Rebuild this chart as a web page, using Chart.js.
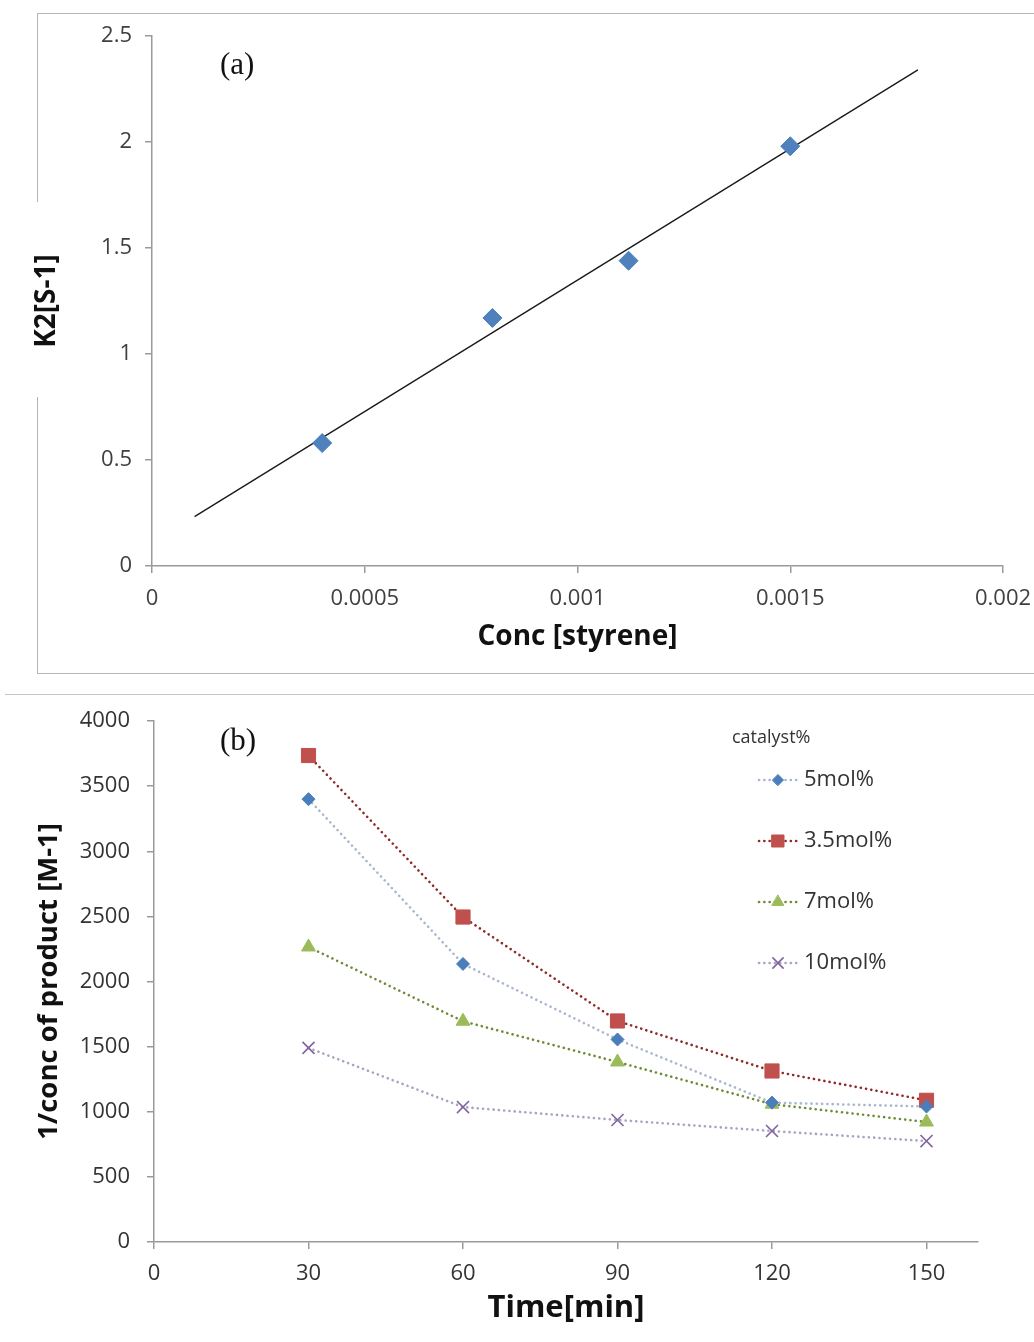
<!DOCTYPE html>
<html>
<head>
<meta charset="utf-8">
<script src="https://cdn.jsdelivr.net/npm/chart.js@4.4.1/dist/chart.umd.min.js"></script>
<style>
  body { margin: 0; background: #fff; width: 1034px; height: 1342px; position: relative; overflow: hidden; }
  .frame { position: absolute; left: 37px; top: 13px; width: 1010px; height: 659px; border: 1.5px solid #b5b5b5; border-right: none; }
  .gap { position: absolute; left: 33px; top: 202px; width: 10px; height: 195px; background: #fff; }
  .sep { position: absolute; left: 5px; top: 694px; width: 1029px; height: 0; border-top: 1.5px solid #c4c4c4; }
  .tag { position: absolute; font-family: "Liberation Serif", "DejaVu Serif", serif; font-size: 31px; line-height: 31px; color: #111; }
  #chartA { position: absolute; left: 0; top: 0; }
  #chartB { position: absolute; left: 0; top: 690px; }
</style>
</head>
<body>
<div class="frame"></div>
<div class="gap"></div>
<div class="sep"></div>
<canvas id="chartA" width="1034" height="690"></canvas>
<canvas id="chartB" width="1034" height="652"></canvas>
<div class="tag" style="left:220px; top:48px;">(a)</div>
<div class="tag" style="left:220px; top:724px;">(b)</div>

<script>
// chart (a)
const concX = [0.0004, 0.0008, 0.00112, 0.0015];
const k2Y = [0.58, 1.17, 1.44, 1.98];
const trendRange = [0.0001, 0.0018];
const xTicksA = [0, 0.0005, 0.001, 0.0015, 0.002];
const yTicksA = [0, 0.5, 1, 1.5, 2, 2.5];

// chart (b)
const timeX = [30, 60, 90, 120, 150];
const series5 = [3400, 2135, 1555, 1070, 1040];
const series35 = [3735, 2495, 1697, 1313, 1088];
const series7 = [2265, 1695, 1382, 1058, 921];
const series10 = [1490, 1036, 937, 852, 775];
const seriesLabels = ['5mol%', '3.5mol%', '7mol%', '10mol%'];
const legendTitle = 'catalyst%';
const xTicksB = [0, 30, 60, 90, 120, 150];
const yTicksB = [0, 500, 1000, 1500, 2000, 2500, 3000, 3500, 4000];

Chart.defaults.color = '#333';
Chart.defaults.font.family = '"Open Sans", "DejaVu Sans", sans-serif';
Chart.defaults.font.size = 22;

// least squares trendline, like the spreadsheet's linear trendline
function fitLine(xs, ys) {
  const n = xs.length;
  const mx = xs.reduce((a, b) => a + b, 0) / n;
  const my = ys.reduce((a, b) => a + b, 0) / n;
  let sxy = 0, sxx = 0;
  for (let i = 0; i < n; i++) {
    sxy += (xs[i] - mx) * (ys[i] - my);
    sxx += (xs[i] - mx) * (xs[i] - mx);
  }
  const slope = sxy / sxx;
  return { slope: slope, icept: my - slope * mx };
}

function axisLook(tickValues, size) {
  return {
    grid: { display: true, drawOnChartArea: false, drawTicks: true, tickLength: 7, color: '#9a9a9a', lineWidth: 1.5 },
    border: { display: true, color: '#9a9a9a', width: 1.5 },
    afterBuildTicks: (scale) => { scale.ticks = tickValues.map(v => ({ value: v })); },
    afterFit: (scale) => {
      if (scale.isHorizontal()) {
        scale.height = size;
        scale.paddingLeft = 0;
        scale.paddingRight = 0;
      } else {
        scale.width = size;
        scale.paddingTop = 0;
        scale.paddingBottom = 0;
      }
    }
  };
}

function loadChartA() {
  const fit = fitLine(concX, k2Y);
  const trend = trendRange.map(x => ({ x: x, y: fit.icept + fit.slope * x }));

  const xAxis = axisLook(xTicksA, 124);
  xAxis.type = 'linear';
  xAxis.min = 0;
  xAxis.max = 0.002;
  xAxis.ticks = { color: '#404040', padding: 13, maxRotation: 0, font: { size: 22 }, callback: v => String(v) };
  xAxis.title = { display: true, text: 'Conc [styrene]', color: '#111', font: { size: 28, weight: 'bold' }, padding: { top: 0, bottom: 36 } };

  const yAxis = axisLook(yTicksA, 152);
  yAxis.min = 0;
  yAxis.max = 2.5;
  yAxis.ticks = { color: '#404040', padding: 13, font: { size: 22 }, callback: v => String(v) };
  yAxis.title = { display: true, text: 'K2[S-1]', color: '#111', font: { size: 28, weight: 'bold' }, padding: { top: 30, bottom: 0 } };

  new Chart(document.getElementById('chartA'), {
    type: 'scatter',
    data: {
      datasets: [{
        label: 'K2',
        data: concX.map((x, i) => ({ x: x, y: k2Y[i] })),
        pointStyle: 'rectRot',
        pointRadius: 9.5,
        pointBackgroundColor: '#4f81bd',
        pointBorderColor: '#4a7ebb',
        pointBorderWidth: 1
      }, {
        label: 'trend',
        data: trend,
        showLine: true,
        borderColor: '#1a1a1a',
        borderWidth: 1.4,
        pointRadius: 0
      }]
    },
    options: {
      responsive: false,
      animation: false,
      layout: { padding: { top: 36, right: 31, left: 0, bottom: 0 } },
      plugins: { legend: { display: false }, tooltip: { enabled: false } },
      scales: { x: xAxis, y: yAxis }
    }
  });
}

const sideLegend = {
  id: 'sideLegend',
  afterDatasetsDraw(chart) {
    const ctx = chart.ctx;
    ctx.save();
    ctx.textBaseline = 'middle';
    ctx.fillStyle = '#333';
    ctx.font = '18px "Open Sans"';
    ctx.fillText(legendTitle, 732, 48);
    chart.data.datasets.forEach((ds, i) => {
      const y = 90 + i * 61;
      ctx.strokeStyle = ds.borderColor;
      ctx.lineWidth = ds.borderWidth;
      ctx.lineCap = 'round';
      ctx.setLineDash(ds.borderDash);
      ctx.beginPath();
      ctx.moveTo(759, y);
      ctx.lineTo(797, y);
      ctx.stroke();
      ctx.setLineDash([]);
      ctx.fillStyle = ds.pointBackgroundColor;
      ctx.strokeStyle = ds.pointBorderColor;
      ctx.lineWidth = ds.pointBorderWidth;
      Chart.helpers.drawPoint(ctx, { pointStyle: ds.pointStyle, radius: ds.pointRadius * 0.85, borderWidth: ds.pointBorderWidth, rotation: 0 }, 778, y);
      ctx.fillStyle = '#333';
      ctx.font = '22px "Open Sans"';
      ctx.fillText(ds.label, 804, y);
    });
    ctx.restore();
  }
};

function loadChartB() {
  const lists = [series5, series35, series7, series10];
  const lineColors = ['#a7b6cf', '#8e2a28', '#6f8b35', '#a9a3c0'];
  const markColors = ['#4a7ebb', '#c0504d', '#9bbb59', '#8064a2'];
  const styles = ['rectRot', 'rect', 'triangle', 'crossRot'];
  const radii = [6.5, 10, 8, 8.5];

  const datasets = lists.map((vals, k) => ({
    label: seriesLabels[k],
    data: timeX.map((t, i) => ({ x: t, y: vals[i] })),
    borderColor: lineColors[k],
    borderWidth: 2.6,
    borderDash: [0.1, 5.2],
    borderCapStyle: 'round',
    tension: 0,
    pointStyle: styles[k],
    pointRadius: radii[k],
    pointBackgroundColor: markColors[k],
    pointBorderColor: markColors[k],
    pointBorderWidth: k === 3 ? 1.6 : 1
  }));

  const xAxis = axisLook(xTicksB, 100);
  xAxis.type = 'linear';
  xAxis.min = 0;
  xAxis.max = 160;
  xAxis.ticks = { color: '#333', padding: 12, maxRotation: 0, font: { size: 22 }, callback: v => String(v) };
  xAxis.title = { display: true, text: 'Time[min]', color: '#111', font: { size: 31, weight: 'bold' }, padding: { top: 0, bottom: 15 } };

  const yAxis = axisLook(yTicksB, 154);
  yAxis.min = 0;
  yAxis.max = 4000;
  yAxis.ticks = { color: '#333', padding: 17, font: { size: 22 }, callback: v => String(v) };
  yAxis.title = { display: true, text: '1/conc of product [M-1]', color: '#111', font: { size: 27.5, weight: 'bold' }, padding: { top: 33, bottom: 0 } };

  new Chart(document.getElementById('chartB'), {
    type: 'line',
    data: { datasets: datasets },
    options: {
      responsive: false,
      animation: false,
      layout: { padding: { top: 31, right: 56, left: 0, bottom: 0 } },
      plugins: { legend: { display: false }, tooltip: { enabled: false } },
      scales: { x: xAxis, y: yAxis }
    },
    plugins: [sideLegend]
  });
}

loadChartA();
loadChartB();
</script>
</body>
</html>
